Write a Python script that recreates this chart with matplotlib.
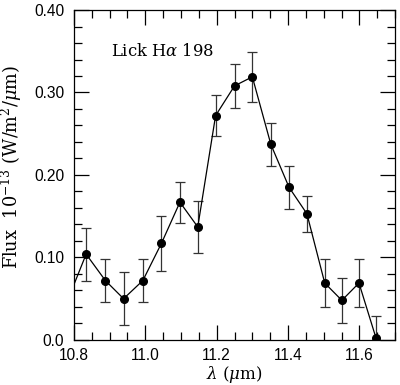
import matplotlib
matplotlib.use("Agg")
import matplotlib.pyplot as plt
from matplotlib.ticker import MultipleLocator, FormatStrFormatter

wavelength = [10.784, 10.834, 10.888, 10.939, 10.993, 11.045, 11.097, 11.147, 11.197,
              11.250, 11.300, 11.352, 11.403, 11.453, 11.503, 11.551, 11.599, 11.647]
flux = [0.050, 0.104, 0.072, 0.050, 0.072, 0.117, 0.167, 0.137, 0.272,
        0.308, 0.319, 0.237, 0.185, 0.153, 0.069, 0.048, 0.069, 0.002]
flux_err = [0.030, 0.032, 0.026, 0.032, 0.026, 0.033, 0.025, 0.032, 0.025,
            0.027, 0.030, 0.026, 0.026, 0.022, 0.029, 0.027, 0.029, 0.027]

plt.rcParams['mathtext.fontset'] = 'dejavuserif'

fig = plt.figure(figsize=(4.0, 3.85), dpi=100)
ax = fig.add_axes([0.185, 0.117, 0.8025, 0.857])

ax.errorbar(wavelength, flux, yerr=flux_err, fmt='o-', color='black', ms=5.5,
            lw=0.9, elinewidth=0.9, capsize=3.5, capthick=0.9, ecolor='#333333')

ax.set_xlim(10.8, 11.7)
ax.set_ylim(0.0, 0.40)
ax.xaxis.set_major_locator(MultipleLocator(0.2))
ax.xaxis.set_minor_locator(MultipleLocator(0.05))
ax.yaxis.set_major_locator(MultipleLocator(0.1))
ax.yaxis.set_minor_locator(MultipleLocator(0.02))
ax.xaxis.set_major_formatter(FormatStrFormatter('%.1f'))
ax.set_yticks([0.0, 0.1, 0.2, 0.3, 0.4])
ax.set_yticklabels(['0.0', '0.10', '0.20', '0.30', '0.40'])

ax.tick_params(which='both', direction='in', top=True, right=True, width=0.9)
ax.tick_params(which='major', length=11)
ax.tick_params(which='minor', length=5.5)
ax.tick_params(axis='x', which='major', pad=6)
ax.tick_params(axis='y', which='major', pad=7)
for lab in ax.get_xticklabels() + ax.get_yticklabels():
    lab.set_fontfamily('Liberation Sans')
    lab.set_fontsize(11.2)
for sp in ax.spines.values():
    sp.set_linewidth(0.9)

ax.set_xlabel(r'$\lambda$ ($\mu$m)', family='DejaVu Serif', fontsize=12)
ax.xaxis.set_label_coords(0.5, -0.074)
ax.set_ylabel(r'Flux  10$^{-13}$ (W/m$^2$/$\mu$m)', family='DejaVu Serif',
              fontsize=12.8)
ax.yaxis.set_label_coords(-0.155, 0.526)

ax.text(0.115, 0.875, r'Lick H$\alpha$ 198', transform=ax.transAxes,
        family='DejaVu Serif', fontsize=11.8, va='center', ha='left')

fig.savefig('out.png', dpi=100)
